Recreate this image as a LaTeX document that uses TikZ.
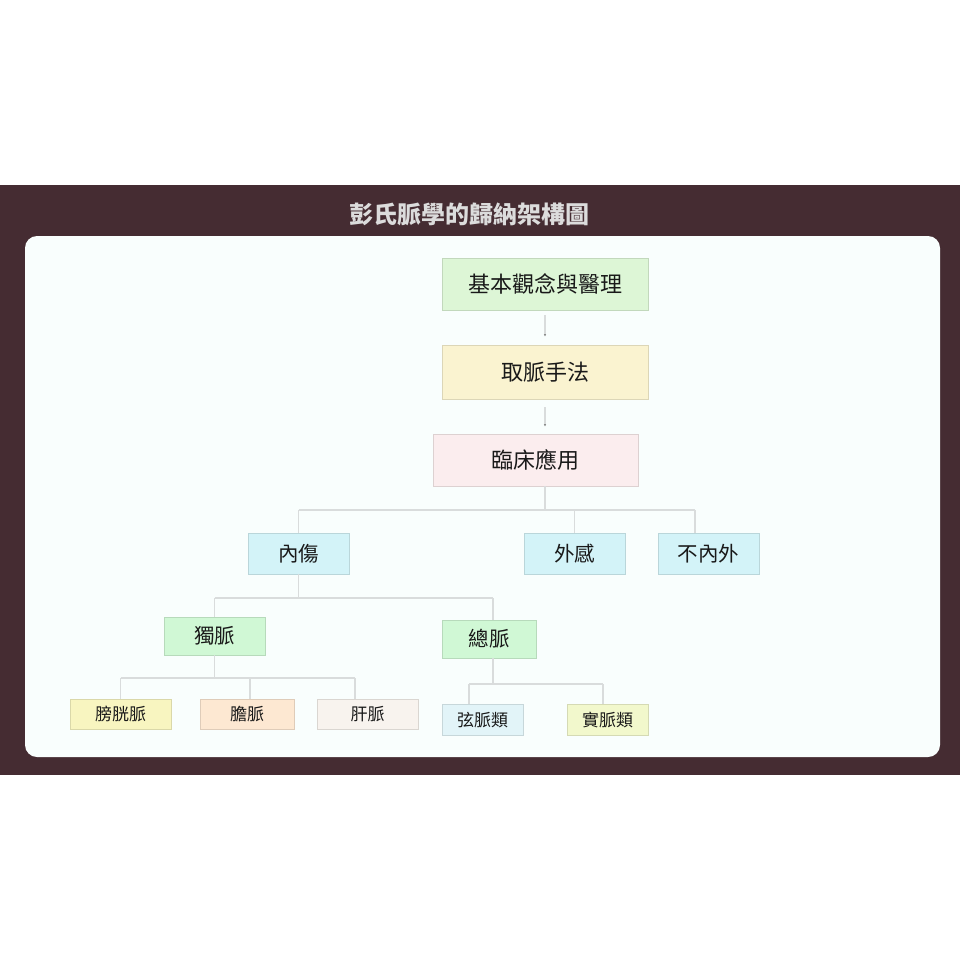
\documentclass[tikz,border=0pt]{standalone}
\usepackage{fontspec}
\usepackage{xcolor}
\usepackage{tikz}
\usetikzlibrary{positioning,arrows.meta}
\newfontfamily\cjk{Noto Sans CJK TC}

\definecolor{bandbrown}{HTML}{452C32}
\definecolor{panelwhite}{HTML}{F9FEFD}
\definecolor{titlegray}{HTML}{DCDCDC}
\definecolor{linkgray}{HTML}{D9DCDC}
\definecolor{basicgreen}{HTML}{DDF6D6}
\definecolor{pulseyellow}{HTML}{FAF3D0}
\definecolor{clinicpink}{HTML}{FBEDEE}
\definecolor{typecyan}{HTML}{D3F3F8}
\definecolor{pulsegreen}{HTML}{D0F8D5}
\definecolor{bladderyellow}{HTML}{F8F5C0}
\definecolor{gallpeach}{HTML}{FDE8D2}
\definecolor{liverwhite}{HTML}{F8F3EE}
\definecolor{stringblue}{HTML}{E2F4F8}
\definecolor{solidlime}{HTML}{F2F8CC}

\begin{document}
\begin{tikzpicture}[x=1pt,y=-1pt,
    box/.style={fill=#1,draw=#1!88!black,line width=0.8pt,inner sep=0pt,text=black!90},
    big/.style={font=\cjk\fontsize{22}{25}\selectfont},
    mid/.style={font=\cjk\fontsize{20.5}{23}\selectfont},
    small/.style={font=\cjk\fontsize{17}{20}\selectfont},
    link/.style={draw=linkgray,line width=1.2pt},
    arrowlink/.style={link,-{Latex[length=2.5pt,width=2.5pt,color=black!45]}}]
    \useasboundingbox (0,0) rectangle (960,960);
    \fill[bandbrown] (0,185) rectangle (960,775);
    \fill[panelwhite,rounded corners=12] (25,236) rectangle (940,757);
    \node[font=\cjk\bfseries\fontsize{24}{26}\selectfont,text=titlegray] (Title) at (469,214) {彭氏脈學的歸納架構圖};

    \node[box=basicgreen,big,minimum width=206,minimum height=52] (Basic) at (545,284) {基本觀念與醫理};
    \node[box=pulseyellow,big,minimum width=206,minimum height=54] (Method) at (545,372) {取脈手法};
    \node[box=clinicpink,big,minimum width=205,minimum height=52] (Clinic) at (535.5,460) {臨床應用};
    \node[box=typecyan,mid,minimum width=101,minimum height=41] (Inner) at (298.5,553.5) {內傷};
    \node[box=typecyan,mid,minimum width=101,minimum height=41] (Outer) at (574.5,553.5) {外感};
    \node[box=typecyan,mid,minimum width=101,minimum height=41] (Neither) at (708.5,553.5) {不內外};
    \node[box=pulsegreen,mid,minimum width=101,minimum height=38] (Single) at (214.5,636) {獨脈};
    \node[box=pulsegreen,mid,minimum width=94,minimum height=38] (General) at (489,639) {總脈};
    \node[box=bladderyellow,small,minimum width=101,minimum height=30] (Bladder) at (120.5,714) {膀胱脈};
    \node[box=gallpeach,small,minimum width=94,minimum height=30] (Gall) at (247,714) {膽脈};
    \node[box=liverwhite,small,minimum width=101,minimum height=30] (Liver) at (367.5,714) {肝脈};
    \node[box=stringblue,small,minimum width=81,minimum height=31] (String) at (482.5,720) {弦脈類};
    \node[box=solidlime,small,minimum width=81,minimum height=31] (Solid) at (607.5,720) {實脈類};

    \coordinate (ClinicFork) at (545,510);
    \coordinate (NeitherFork) at (695,510);
    \coordinate (InnerFork) at (298.5,598);
    \coordinate (GeneralFork) at (493,598);
    \coordinate (SingleFork) at (214.5,678);
    \coordinate (GallFork) at (250,678);
    \coordinate (LiverFork) at (355,678);
    \coordinate (GeneralSplit) at (493,684);
    \coordinate (StringFork) at (469,684);
    \coordinate (SolidFork) at (603,684);

    \draw[arrowlink,shorten <=5pt,shorten >=8pt] (Basic) -- (Method);
    \draw[arrowlink,shorten <=8pt,shorten >=7pt] (Method.south) -- (Method.south |- Clinic.north);

    \draw[link] (Clinic.south -| ClinicFork) -- (ClinicFork);
    \draw[link] (Inner |- ClinicFork) -- (NeitherFork);
    \draw[link] (Inner |- ClinicFork) -- (Inner.north);
    \draw[link] (Outer |- ClinicFork) -- (Outer.north);
    \draw[link] (NeitherFork) -- (NeitherFork |- Neither.north);

    \draw[link] (Inner.south) -- (InnerFork);
    \draw[link] (Single |- InnerFork) -- (GeneralFork);
    \draw[link] (Single |- InnerFork) -- (Single.north);
    \draw[link] (GeneralFork) -- (GeneralFork |- General.north);

    \draw[link] (Single.south) -- (SingleFork);
    \draw[link] (Bladder |- SingleFork) -- (LiverFork);
    \draw[link] (Bladder |- SingleFork) -- (Bladder.north);
    \draw[link] (GallFork) -- (GallFork |- Gall.north);
    \draw[link] (LiverFork) -- (LiverFork |- Liver.north);

    \draw[link] (General.south -| GeneralSplit) -- (GeneralSplit);
    \draw[link] (StringFork) -- (SolidFork);
    \draw[link] (StringFork) -- (StringFork |- String.north);
    \draw[link] (SolidFork) -- (SolidFork |- Solid.north);
\end{tikzpicture}
\end{document}
